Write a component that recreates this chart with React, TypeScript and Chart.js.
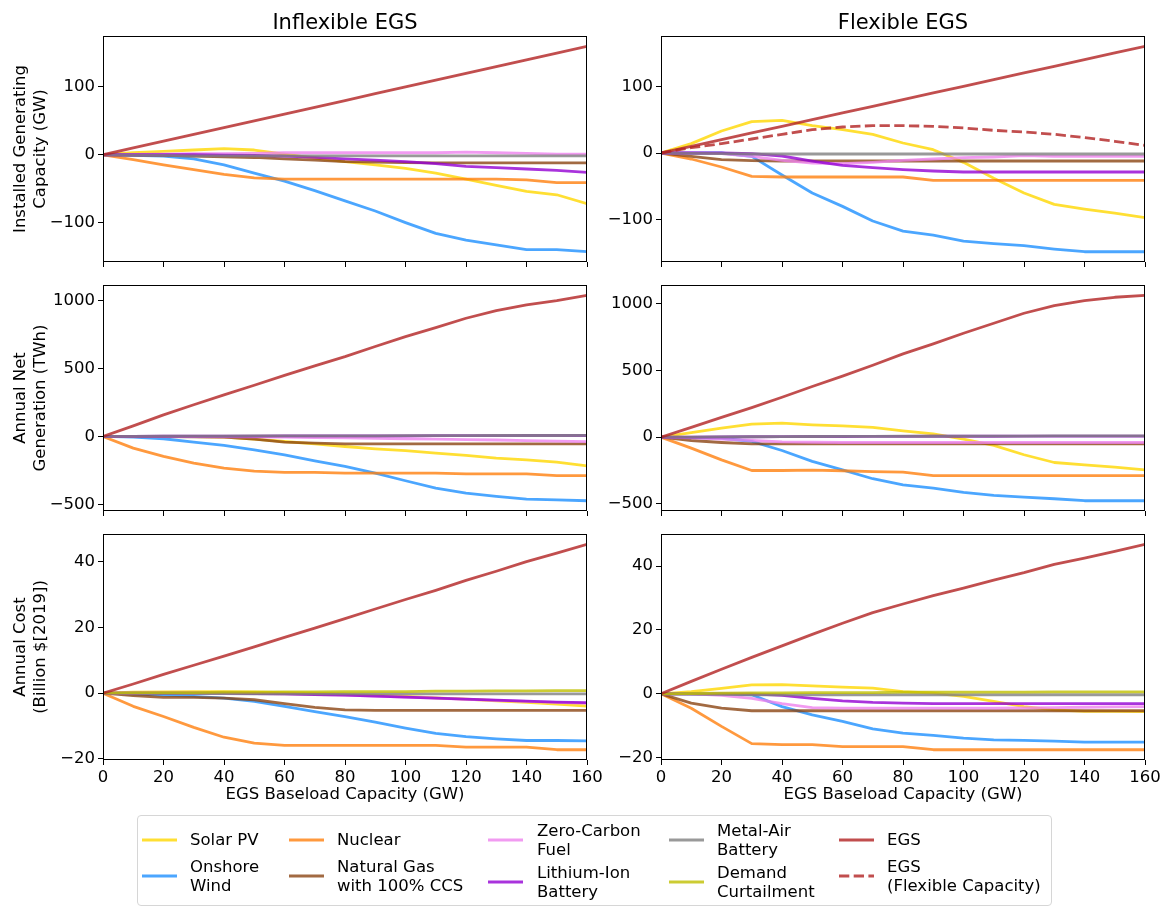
import React, { useEffect, useRef } from 'react';
import { Chart, registerables } from 'chart.js';

Chart.register(...registerables);

// ---------------- DATA ----------------
const X = [0, 10, 20, 30, 40, 50, 60, 70, 80, 90, 100, 110, 120, 130, 140, 150, 160];
const X_TICKS = [0, 20, 40, 60, 80, 100, 120, 140, 160];
const Y_TICKS_CAP = [-100, 0, 100];
const Y_TICKS_GEN = [-500, 0, 500, 1000];
const Y_TICKS_COST = [-20, 0, 20, 40];

// Installed capacity (GW) — Inflexible EGS
const capInfSolar = [0, 3, 5, 7, 9, 7, 1, -5, -10, -15, -20, -27, -36, -45, -54, -59, -72];
const capInfWind = [0, -1, -2, -6, -15, -27, -39, -53, -68, -83, -100, -116, -126, -133, -140, -140, -143];
const capInfNuclear = [0, -7, -15, -22, -29, -34, -36, -36, -36, -36, -36, -36, -36, -36, -37, -41, -41];
const capInfGas = [0, -0.5, -1, -2, -3, -4, -6, -8, -10, -11, -11.5, -12, -12, -12, -12, -12, -12];
const capInfZcf = [0, 0.5, 1, 1.5, 1.5, 2, 3, 3, 3, 3, 3, 3, 4, 3, 2, 1, 1];
const capInfLiIon = [0, 0, 0, 0, -0.5, -1, -2, -4, -6, -8, -10, -13, -17, -19, -21, -23, -26];
const capInfMetalAir = [0, -0.5, -1, -1.5, -1.5, -1.5, -1.5, -1.5, -1.5, -1.5, -1.5, -1.5, -1.5, -1.5, -1.5, -1.5, -1.5];
const capInfDemand: number[] = [];
const capInfEgs = [0, 10, 20, 30, 40, 50, 60, 70, 80, 90, 100, 110, 120, 130, 140, 150, 160];
const capInfEgsFlex: number[] = [];

// Installed capacity (GW) — Flexible EGS
const capFlexSolar = [0, 14, 33, 47, 49, 41, 35, 28, 15, 5, -14, -38, -60, -77, -84, -90, -97];
const capFlexWind = [0, 0, 0, -5, -33, -60, -80, -102, -117, -123, -132, -136, -139, -144, -148, -148, -148];
const capFlexNuclear = [0, -9, -21, -35, -36, -36, -36, -36, -36, -41, -41, -41, -41, -41, -41, -41, -41];
const capFlexGas = [0, -5, -10, -11.5, -12, -12, -12, -12, -12, -12, -12, -12, -12, -12, -12, -12, -12];
const capFlexZcf = [0, 0, -1, -5, -11, -15, -16, -14, -11, -9, -7, -6, -4, -5, -5, -5, -5];
const capFlexLiIon = [0, 0, 0, -1, -4.5, -12, -18.5, -22, -25, -27, -28.5, -28.5, -28.5, -28.5, -28.5, -28.5, -28.5];
const capFlexMetalAir = [0, -0.5, -1, -1.5, -1.5, -1.5, -1.5, -1.5, -1.5, -1.5, -1.5, -1.5, -1.5, -1.5, -1.5, -1.5, -1.5];
const capFlexDemand: number[] = [];
const capFlexEgs = [0, 10, 20, 30, 40, 50, 60, 70, 80, 90, 100, 110, 120, 130, 140, 150, 160];
const capFlexEgsFlex = [0, 8, 14, 21, 28, 35, 39, 41, 41, 40, 37.5, 34, 31.5, 28, 23, 17.5, 11.5];

// Annual net generation (TWh) — Inflexible EGS
const genInfSolar = [0, 0, 0, -1, -5, -20, -37, -54, -74, -91, -105, -123, -140, -159, -172, -189, -216];
const genInfWind = [0, -5, -17, -42, -66, -98, -135, -179, -221, -270, -326, -380, -417, -441, -461, -466, -473];
const genInfNuclear = [0, -86, -147, -196, -233, -255, -265, -265, -270, -270, -270, -270, -275, -275, -275, -289, -289];
const genInfGas = [0, 0, -1, -2, -4, -20, -42, -49, -54, -54, -54, -54, -54, -54, -54, -54, -54];
const genInfZcf = [0, 0, 0, -1, -2, -3, -5, -8, -11, -14, -17, -20, -23, -26, -30, -34, -38];
const genInfLiIon = [0, 1, 2, 2, 3, 3, 4, 4, 5, 5, 5, 6, 6, 6, 7, 7, 7];
const genInfMetalAir = [0, 1, 2, 3, 3, 4, 4, 5, 5, 5, 6, 6, 6, 7, 7, 7, 8];
const genInfDemand: number[] = [];
const genInfEgs = [0, 78, 159, 233, 306, 377, 449, 520, 588, 662, 735, 801, 870, 926, 968, 1000, 1039];
const genInfEgsFlex: number[] = [];

// Annual net generation (TWh) — Flexible EGS
const genFlexSolar = [0, 35, 68, 98, 105, 93, 85, 73, 48, 25, -15, -62, -132, -190, -208, -225, -245];
const genFlexWind = [0, -3, -8, -32, -100, -182, -245, -312, -358, -382, -415, -437, -450, -462, -477, -477, -477];
const genFlexNuclear = [0, -82, -170, -250, -250, -248, -252, -258, -262, -288, -288, -288, -288, -288, -288, -288, -288];
const genFlexGas = [0, -25, -40, -50, -50, -50, -50, -50, -50, -50, -50, -50, -50, -50, -50, -50, -50];
const genFlexZcf = [0, -5, -15, -25, -35, -38, -40, -40, -40, -40, -40, -40, -40, -40, -40, -40, -40];
const genFlexLiIon = [0, 1, 2, 3, 4, 5, 5, 6, 6, 7, 7, 7, 8, 8, 8, 8, 8];
const genFlexMetalAir = [0, 1, 2, 3, 4, 5, 6, 6, 7, 7, 8, 8, 8, 9, 9, 9, 9];
const genFlexDemand: number[] = [];
const genFlexEgs = [0, 74, 148, 222, 300, 380, 458, 540, 625, 700, 780, 855, 930, 988, 1025, 1050, 1065];
const genFlexEgsFlex: number[] = [];

// Annual cost (Billion $[2019]) — Inflexible EGS
const costInfSolar = [0, 0.3, 0.4, 0.5, 0.5, 0.4, 0.2, 0, -0.3, -0.6, -1, -1.4, -1.8, -2.3, -2.8, -3.3, -3.9];
const costInfWind = [0, -0.3, -0.6, -1.0, -1.5, -2.5, -4, -5.6, -7.1, -8.8, -10.6, -12.2, -13.2, -13.9, -14.4, -14.4, -14.5];
const costInfNuclear = [0, -4, -7.1, -10.4, -13.4, -15.2, -15.9, -15.9, -15.9, -15.9, -15.9, -15.9, -16.4, -16.4, -16.4, -17.2, -17.2];
const costInfGas = [0, -0.7, -1.3, -1.3, -1.5, -2.0, -3.2, -4.3, -5.1, -5.2, -5.2, -5.2, -5.2, -5.2, -5.2, -5.2, -5.2];
const costInfZcf = [0, 0, 0.1, 0.1, 0, -0.1, -0.2, -0.4, -0.6, -0.9, -1.2, -1.5, -1.9, -2.2, -2.5, -2.8, -3.1];
const costInfLiIon = [0, 0, 0, 0, 0, -0.1, -0.2, -0.4, -0.6, -0.9, -1.2, -1.5, -1.8, -2.1, -2.4, -2.7, -2.9];
const costInfMetalAir = [0, 0, -0.1, -0.1, -0.1, -0.2, -0.2, -0.2, -0.2, -0.2, -0.2, -0.2, -0.2, -0.2, -0.2, -0.2, -0.2];
const costInfDemand = [0, 0.1, 0.2, 0.2, 0.3, 0.3, 0.4, 0.4, 0.5, 0.5, 0.5, 0.6, 0.6, 0.7, 0.7, 0.8, 0.8];
const costInfEgs = [0, 2.8, 5.7, 8.5, 11.3, 14.1, 17.0, 19.8, 22.7, 25.6, 28.5, 31.3, 34.3, 37.1, 40.0, 42.6, 45.3];
const costInfEgsFlex: number[] = [];

// Annual cost (Billion $[2019]) — Flexible EGS
const costFlexSolar = [0, 0.7, 1.7, 2.8, 2.9, 2.5, 2.1, 1.8, 0.7, 0.2, -0.8, -2.4, -4, -5, -5.5, -5.5, -5.6];
const costFlexWind = [0, 0, 0, -0.3, -4, -6.6, -8.6, -11, -12.3, -13, -13.9, -14.4, -14.6, -14.8, -15.1, -15.1, -15.1];
const costFlexNuclear = [0, -4.5, -10.2, -15.6, -15.9, -15.9, -16.5, -16.5, -16.5, -17.5, -17.5, -17.5, -17.5, -17.5, -17.5, -17.5, -17.5];
const costFlexGas = [0, -2.9, -4.5, -5.3, -5.3, -5.3, -5.3, -5.3, -5.3, -5.3, -5.3, -5.3, -5.3, -5.3, -5.3, -5.3, -5.3];
const costFlexZcf = [0, 0, -0.5, -1.4, -3.1, -4.3, -4.5, -4.5, -4.5, -4.5, -4.5, -4.5, -4.4, -4.3, -4.2, -4.1, -4.0];
const costFlexLiIon = [0, 0, 0, 0, -0.5, -1.4, -2.2, -2.7, -2.9, -3.1, -3.1, -3.1, -3.1, -3.1, -3.1, -3.1, -3.1];
const costFlexMetalAir = [0, -0.1, -0.2, -0.3, -0.3, -0.3, -0.3, -0.3, -0.3, -0.3, -0.3, -0.3, -0.3, -0.3, -0.3, -0.3, -0.3];
const costFlexDemand = [0, 0.1, 0.2, 0.3, 0.3, 0.4, 0.4, 0.4, 0.5, 0.5, 0.5, 0.5, 0.5, 0.6, 0.6, 0.6, 0.6];
const costFlexEgs = [0, 3.9, 7.7, 11.4, 15.0, 18.6, 22.1, 25.4, 28.1, 30.7, 33.1, 35.6, 37.9, 40.5, 42.5, 44.6, 46.8];
const costFlexEgsFlex: number[] = [];

// Series names / colours (legend order)
const SERIES_LABELS = [
  'Solar PV', 'Onshore\nWind', 'Nuclear', 'Natural Gas\nwith 100% CCS', 'Zero-Carbon\nFuel',
  'Lithium-Ion\nBattery', 'Metal-Air\nBattery', 'Demand\nCurtailment', 'EGS', 'EGS\n(Flexible Capacity)',
];
const SERIES_COLORS = [
  'rgba(255,215,0,0.8)', 'rgba(30,144,255,0.8)', 'rgba(255,127,14,0.8)', 'rgba(139,69,19,0.8)',
  'rgba(238,130,238,0.8)', 'rgba(148,0,211,0.8)', 'rgba(128,128,128,0.8)', 'rgba(191,191,0,0.8)',
  'rgba(178,34,34,0.8)', 'rgba(178,34,34,0.8)',
];
const SERIES_DASHED = [false, false, false, false, false, false, false, false, false, true];

const COL_TITLES = ['Inflexible EGS', 'Flexible EGS'];
const ROW_TITLES = [
  ['Installed Generating', 'Capacity (GW)'],
  ['Annual Net', 'Generation (TWh)'],
  ['Annual Cost', '(Billion $[2019])'],
];
const ROW_Y_TICKS = [Y_TICKS_CAP, Y_TICKS_GEN, Y_TICKS_COST];
const X_TITLE = 'EGS Baseload Capacity (GW)';

const PANEL_SERIES = [
  [
    [capInfSolar, capInfWind, capInfNuclear, capInfGas, capInfZcf, capInfLiIon, capInfMetalAir, capInfDemand, capInfEgs, capInfEgsFlex],
    [capFlexSolar, capFlexWind, capFlexNuclear, capFlexGas, capFlexZcf, capFlexLiIon, capFlexMetalAir, capFlexDemand, capFlexEgs, capFlexEgsFlex],
  ],
  [
    [genInfSolar, genInfWind, genInfNuclear, genInfGas, genInfZcf, genInfLiIon, genInfMetalAir, genInfDemand, genInfEgs, genInfEgsFlex],
    [genFlexSolar, genFlexWind, genFlexNuclear, genFlexGas, genFlexZcf, genFlexLiIon, genFlexMetalAir, genFlexDemand, genFlexEgs, genFlexEgsFlex],
  ],
  [
    [costInfSolar, costInfWind, costInfNuclear, costInfGas, costInfZcf, costInfLiIon, costInfMetalAir, costInfDemand, costInfEgs, costInfEgsFlex],
    [costFlexSolar, costFlexWind, costFlexNuclear, costFlexGas, costFlexZcf, costFlexLiIon, costFlexMetalAir, costFlexDemand, costFlexEgs, costFlexEgsFlex],
  ],
];

// ---------------- LAYOUT ----------------
const FONT = 'DejaVu Sans';
const COL_CANVAS = [
  { left: 0, width: 630, yAxisW: 103, padRight: 43 },
  { left: 600, width: 569, yAxisW: 61, padRight: 24 },
];
const ROW_CANVAS = [
  { top: 0, height: 270, padTop: 1.8, xAxisH: 8 },
  { top: 270, height: 249, padTop: 15, xAxisH: 8 },
  { top: 519, height: 300, padTop: 15, xAxisH: 59 },
];

const fmt = (v: number) => String(v).replace('-', '\u2212');

const framePlugin = {
  id: 'frame',
  afterDatasetsDraw(chart: any) {
    const { ctx, chartArea } = chart;
    const { left, top, right, bottom } = chartArea;
    ctx.save();
    ctx.strokeStyle = '#000';
    ctx.lineWidth = 1;
    ctx.strokeRect(Math.round(left) + 0.5, Math.round(top) + 0.5, Math.round(right - left) - 1, Math.round(bottom - top) - 1);
    ctx.restore();
  },
};

function buildChart(canvas: HTMLCanvasElement, row: number, col: number) {
  const series = PANEL_SERIES[row][col];
  const n = series.length;
  const datasets: any[] = [];
  let lo = Infinity;
  let hi = -Infinity;
  series.forEach((arr, i) => {
    if (!arr.length) return;
    arr.forEach((v) => { lo = Math.min(lo, v); hi = Math.max(hi, v); });
    datasets.push({
      label: SERIES_LABELS[i],
      data: X.map((x, k) => ({ x, y: arr[k] })),
      borderColor: SERIES_COLORS[i],
      backgroundColor: SERIES_COLORS[i],
      borderWidth: 2.8,
      borderDash: SERIES_DASHED[i] ? [10.3, 4.4] : [],
      borderJoinStyle: 'round',
      pointRadius: 0,
      pointHoverRadius: 0,
      tension: 0,
      fill: false,
      order: n - i,
    });
  });
  const span = hi - lo;
  const yMin = lo - 0.05 * span;
  const yMax = hi + 0.05 * span;
  const cc = COL_CANVAS[col];
  const rc = ROW_CANVAS[row];
  const isBottom = row === 2;
  const yTicks = ROW_Y_TICKS[row];

  return new Chart(canvas, {
    type: 'line',
    data: { datasets },
    plugins: [framePlugin],
    options: {
      responsive: false,
      animation: false,
      devicePixelRatio: 1,
      events: [],
      layout: { padding: { top: rc.padTop, right: cc.padRight, left: 0, bottom: 0 } },
      plugins: {
        legend: { display: false },
        tooltip: { enabled: false },
        title: {
          display: row === 0,
          text: COL_TITLES[col],
          fullSize: false,
          color: '#000',
          font: { family: FONT, size: 21, weight: 'normal', lineHeight: 1.2 },
          padding: { top: 9, bottom: 0 },
        },
      },
      scales: {
        x: {
          type: 'linear',
          min: X[0],
          max: X[X.length - 1],
          border: { display: false },
          grid: { display: true, drawOnChartArea: false, drawTicks: true, tickLength: 5, color: '#000', lineWidth: 1 },
          afterBuildTicks: (s: any) => { s.ticks = X_TICKS.map((v) => ({ value: v })); },
          ticks: {
            display: isBottom,
            color: '#000',
            padding: 3,
            maxRotation: 0,
            autoSkip: false,
            font: { family: FONT, size: 16.5 },
            callback: (v: any) => fmt(v),
          },
          title: {
            display: isBottom,
            text: X_TITLE,
            color: '#000',
            font: { family: FONT, size: 16.5, lineHeight: 1.2 },
            padding: { top: 0, bottom: 14 },
          },
          afterFit: (s: any) => {
            s.height = rc.xAxisH;
            s.paddingLeft = 0;
            s.paddingRight = 0;
          },
        },
        y: {
          type: 'linear',
          min: yMin,
          max: yMax,
          border: { display: false },
          grid: { display: true, drawOnChartArea: false, drawTicks: true, tickLength: 5, color: '#000', lineWidth: 1 },
          afterBuildTicks: (s: any) => {
            s.ticks = yTicks.filter((v) => v >= s.min && v <= s.max).map((v) => ({ value: v }));
          },
          ticks: {
            color: '#000',
            padding: 3,
            autoSkip: false,
            font: { family: FONT, size: 16.5 },
            callback: (v: any) => fmt(v),
          },
          title: {
            display: col === 0,
            text: ROW_TITLES[row],
            color: '#000',
            font: { family: FONT, size: 16.5, lineHeight: 1.2 },
            padding: { top: 11, bottom: 0 },
          },
          afterFit: (s: any) => {
            s.width = cc.yAxisW;
            s.paddingTop = 0;
            s.paddingBottom = 0;
          },
        },
      },
    } as any,
  });
}

// ---------------- LEGEND ----------------
const LEG_SWATCH_X = [142, 289, 488, 669, 839];
const LEG_TEXT_X = [190, 337, 537, 717, 887];
const LEG_ROW_Y = [
  [840, 876],
  [840, 876],
  [840, 882],
  [840, 882],
  [840, 876],
];

function Legend() {
  return (
    <div>
      <div
        style={{
          position: 'absolute', left: 137, top: 815, width: 913, height: 89,
          border: '1px solid #d6d6d6', borderRadius: 4, background: 'rgba(255,255,255,0.8)',
        }}
      />
      {SERIES_LABELS.map((label, i) => {
        const c = Math.floor(i / 2);
        const r = i % 2;
        const sx = LEG_SWATCH_X[c];
        const sy = LEG_ROW_Y[c][r];
        return (
          <React.Fragment key={i}>
            <svg style={{ position: 'absolute', left: sx, top: sy - 3, width: 36, height: 6 }} width={36} height={6}>
              <line
                x1={0} y1={3} x2={35} y2={3}
                stroke={SERIES_COLORS[i]} strokeWidth={2.8}
                strokeDasharray={SERIES_DASHED[i] ? '10.3 4.4' : undefined}
              />
            </svg>
            <div
              style={{
                position: 'absolute', left: LEG_TEXT_X[c], top: sy, transform: 'translateY(-50%)',
                whiteSpace: 'pre', fontFamily: FONT, fontSize: 16.5, lineHeight: '18.5px', color: '#000',
              }}
            >
              {label}
            </div>
          </React.Fragment>
        );
      })}
    </div>
  );
}

export default function App() {
  const refs = useRef<(HTMLCanvasElement | null)[]>([]);

  useEffect(() => {
    const charts: Chart[] = [];
    for (let r = 0; r < 3; r++) {
      for (let c = 0; c < 2; c++) {
        const cv = refs.current[r * 2 + c];
        if (cv) charts.push(buildChart(cv, r, c));
      }
    }
    return () => charts.forEach((ch) => ch.destroy());
  }, []);

  const canvases: React.ReactNode[] = [];
  for (let r = 0; r < 3; r++) {
    for (let c = 0; c < 2; c++) {
      const cc = COL_CANVAS[c];
      const rc = ROW_CANVAS[r];
      canvases.push(
        <canvas
          key={`${r}-${c}`}
          ref={(el) => { refs.current[r * 2 + c] = el; }}
          width={cc.width}
          height={rc.height}
          style={{ position: 'absolute', left: cc.left, top: rc.top, width: cc.width, height: rc.height }}
        />
      );
    }
  }

  return (
    <div style={{ position: 'absolute', left: 0, top: 0, width: 1169, height: 907, background: '#fff', overflow: 'hidden' }}>
      {canvases}
      <Legend />
    </div>
  );
}
